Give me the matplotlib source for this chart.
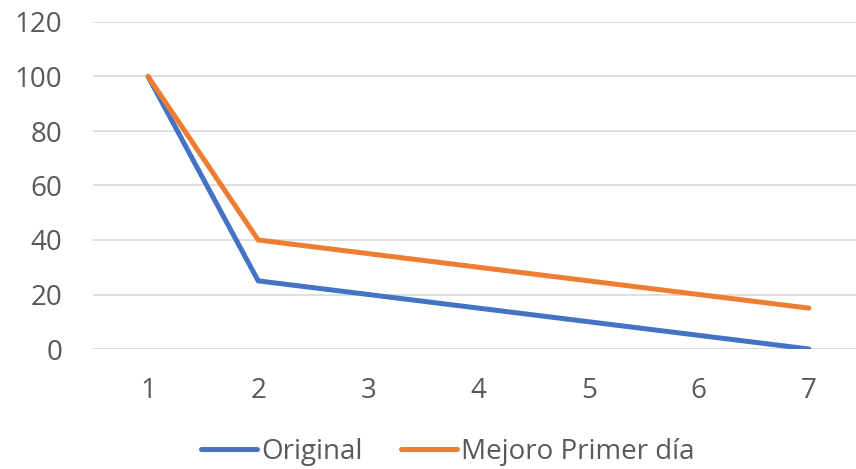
import matplotlib.pyplot as plt

# données
jours = [1, 2, 3, 4, 5, 6, 7]
original = [100, 25, 20, 15, 10, 5, 0]
mejoro = [100, 40, 35, 30, 25, 20, 15]
yticks = [0, 20, 40, 60, 80, 100, 120]

plt.rcParams['font.family'] = ['Open Sans', 'DejaVu Sans']
gris_texte = '#595959'

fig = plt.figure(figsize=(8.56, 4.69), dpi=100)
ax = fig.add_axes([93 / 856, 120 / 469, (864 - 93) / 856, (447 - 120) / 469])

ax.plot(jours, original, color='#4472C4', lw=3.6, solid_capstyle='round',
        solid_joinstyle='round', label='Original', zorder=3)
ax.plot(jours, mejoro, color='#ED7D31', lw=3.6, solid_capstyle='round',
        solid_joinstyle='round', label='Mejoro Primer día', zorder=4)

ax.set_xlim(0.5, 7.5)
ax.set_ylim(0, 120)
ax.set_yticks(yticks)
ax.set_xticks(jours)
ax.grid(axis='y', color='#D9D9D9', lw=1.2)
ax.set_axisbelow(True)
for s in ax.spines.values():
    s.set_visible(False)
ax.tick_params(length=0, labelsize=20, labelcolor=gris_texte)
ax.tick_params(axis='y', pad=22)
ax.tick_params(axis='x', pad=20)

fig.legend(loc='center', bbox_to_anchor=(448 / 856, 1 - 452 / 469), ncol=2,
           frameon=False, fontsize=20, handlelength=2.0, handletextpad=0.15,
           columnspacing=1.4, labelcolor=gris_texte)

fig.savefig('out.png', dpi=100)
